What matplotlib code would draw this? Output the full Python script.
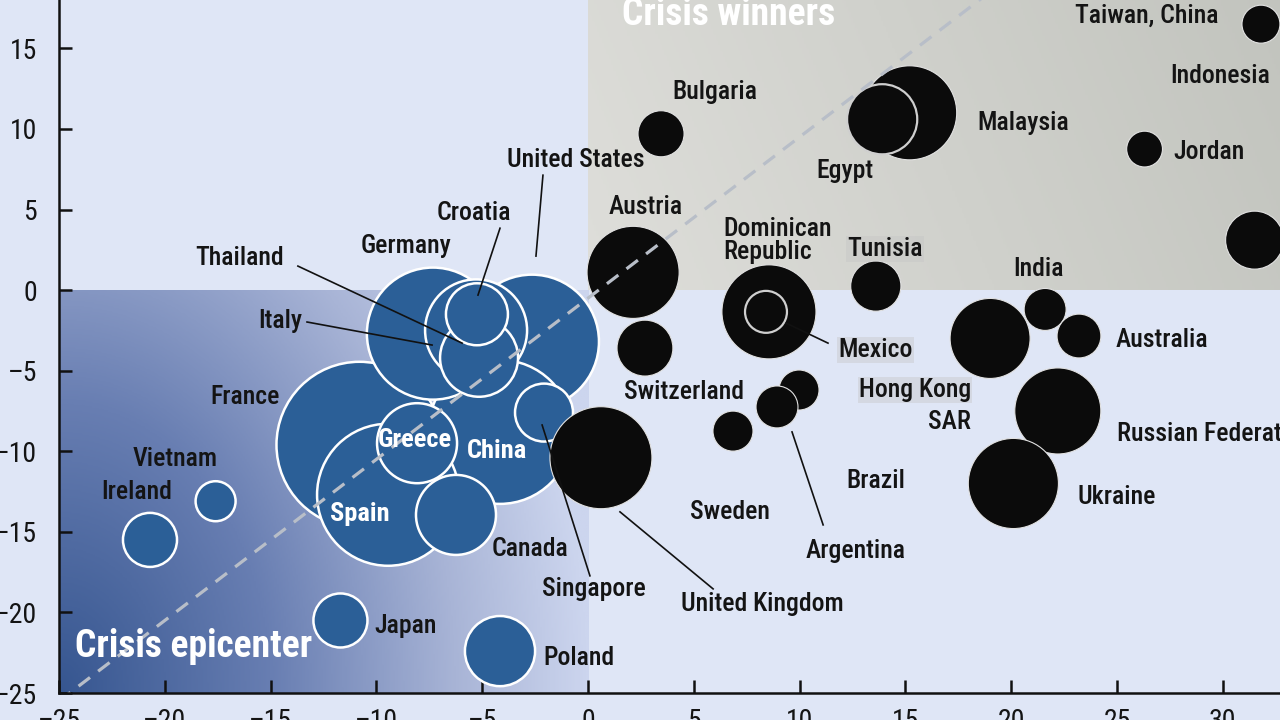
import numpy as np
import matplotlib
matplotlib.use("Agg")
import matplotlib.pyplot as plt
from matplotlib import font_manager
from matplotlib.colors import LinearSegmentedColormap

# ---- data -------------------------------------------------------------
# crisis-hit economies (lower-left, blue), in drawing order
blue_names = ["France", "United States", "China", "Germany", "Spain", "Thailand",
              "Italy", "Croatia", "Greece", "Canada", "Singapore", "Vietnam",
              "Ireland", "Japan", "Poland"]
blue_x = [-10.8, -2.65, -4.16, -7.33, -9.45, -5.29, -5.15, -5.25, -8.08, -6.24,
          -2.08, -17.6, -20.7, -11.7, -4.16]
blue_y = [-9.6, -3.2, -8.8, -2.7, -12.7, -2.5, -4.2, -1.5, -9.5, -13.95, -7.6,
          -13.1, -15.5, -20.5, -22.4]
blue_w = [68.9, 44.9, 51.8, 43.6, 50.4, 26.0, 15.2, 9.6, 16.0, 16.0, 8.4, 4.0,
          7.3, 7.3, 12.3]

# the rest (black), in drawing order
black_names = ["Bulgaria", "Austria", "Switzerland", "United Kingdom",
               "Dominican Republic", "Mexico", "Tunisia", "Brazil", "Argentina",
               "Sweden", "Malaysia", "Egypt", "Jordan", "Indonesia",
               "Taiwan, China", "Hong Kong SAR", "India", "Australia",
               "Russian Federation", "Ukraine"]
black_x = [3.45, 2.13, 2.69, 0.61, 8.55, 8.41, 13.6, 9.97, 8.93, 6.85, 15.2,
           13.9, 26.3, 31.5, 31.8, 19.0, 21.6, 23.2, 22.2, 20.1]
black_y = [9.7, 1.1, -3.6, -10.4, -1.35, -1.35, 0.25, -6.2, -7.25, -8.75, 11.0,
           10.6, 8.75, 3.1, 16.5, -3.0, -1.2, -2.85, -7.5, -12.0]
black_w = [5.3, 21.2, 7.8, 26.0, 22.1, 4.4, 6.3, 4.0, 4.4, 4.0, 22.1, 12.3,
           3.2, 8.4, 3.6, 16.0, 4.4, 4.8, 18.5, 20.3]

# y = x reference line (slightly offset as in the print)
diag_x = [-25, 20]
diag_y = [-25.5, 19.5]

x_ticks = [-25, -20, -15, -10, -5, 0, 5, 10, 15, 20, 25, 30]
y_ticks = [-25, -20, -15, -10, -5, 0, 5, 10, 15]

# label text, anchor x, anchor y, ha
labels = [
    ("Taiwan, China", 23.0, 17.0, "left"),
    ("Indonesia", 27.5, 13.3, "left"),
    ("Bulgaria", 3.97, 12.3, "left"),
    ("Malaysia", 18.4, 10.35, "left"),
    ("Jordan", 27.65, 8.55, "left"),
    ("United States", -3.83, 8.1, "left"),
    ("Egypt", 10.8, 7.4, "left"),
    ("Austria", 0.99, 5.15, "left"),
    ("Croatia", -7.14, 4.77, "left"),
    ("Dominican\nRepublic", 6.38, 3.1, "left"),
    ("Germany", -10.73, 2.73, "left"),
    ("Thailand", -18.57, 1.98, "left"),
    ("India", 20.09, 1.3, "left"),
    ("Italy", -15.6, -1.92, "left"),
    ("Australia", 24.95, -3.1, "left"),
    ("Switzerland", 1.7, -6.32, "left"),
    ("SAR", 18.1, -8.2, "right"),
    ("France", -17.86, -6.63, "left"),
    ("Russian Federation", 25.0, -8.93, "left"),
    ("Vietnam", -21.5, -10.48, "left"),
    ("Brazil", 12.19, -11.84, "left"),
    ("Ireland", -23.02, -12.52, "left"),
    ("Ukraine", 23.11, -12.83, "left"),
    ("Sweden", 4.82, -13.76, "left"),
    ("Canada", -4.54, -16.06, "left"),
    ("Argentina", 10.26, -16.18, "left"),
    ("Singapore", -2.17, -18.54, "left"),
    ("United Kingdom", 4.4, -19.47, "left"),
    ("Japan", -10.11, -20.83, "left"),
    ("Poland", -2.13, -22.81, "left"),
]
shaded_labels = [
    ("Tunisia", 12.24, 2.54, "left"),
    ("Mexico", 11.81, -3.72, "left"),
    ("Hong Kong", 18.1, -6.2, "right"),
]
inner_labels = [("Greece", -9.92, -9.3), ("China", -5.72, -9.98), ("Spain", -12.19, -13.89)]

leaders = [
    ((-2.13, 7.13), (-2.46, 2.11)),
    ((-4.16, 3.84), (-5.20, -0.31)),
    ((-13.71, 1.49), (-5.95, -3.29)),
    ((-13.28, -1.98), (-7.37, -3.41)),
    ((9.36, -2.05), (11.34, -3.29)),
    ((9.64, -8.80), (11.11, -14.57)),
    ((-2.17, -8.37), (0.09, -17.73)),
    ((1.51, -13.76), (5.91, -18.54)),
]

# ---- style ------------------------------------------------------------
_names = {f.name for f in font_manager.fontManager.ttflist}


def _pick(*cands):
    for c in cands:
        if c in _names:
            return c
    return "DejaVu Sans"


COND = _pick("Roboto Condensed", "Archivo Narrow", "PT Sans Narrow", "Liberation Sans")
COND_OK = COND not in ("Liberation Sans", "DejaVu Sans")
LBL_SIZE = 18.5 if COND_OK else 16.5
TICK_SIZE = 20 if COND_OK else 16
BOLD_BIG = 27 if COND_OK else 23
BOLD_SMALL = 19 if COND_OK else 16

BG = "#dfe6f6"
BLUE = "#2b5f97"
BLACK = "#0b0b0b"
INK = "#141414"
SCALE = 207.4   # weight -> marker area (pt^2)

XMAX, YMAX = 32.7, 18.0

fig = plt.figure(figsize=(12.8, 7.2), dpi=100, facecolor=BG)
ax = fig.add_axes([59 / 1280, 27 / 720, 1 - 59 / 1280, 693 / 720])
ax.set_facecolor(BG)
ax.set_xlim(-25, XMAX)
ax.set_ylim(-25, YMAX)

# ── quadrant shading ───────────────────────────────────────
u, v = np.meshgrid(np.linspace(0, 1, 300), np.linspace(0, 1, 300))
t = np.clip(np.sqrt(u ** 2 + (v / 1.8) ** 2), 0, 1)
blue_cmap = LinearSegmentedColormap.from_list(
    "epic", [(0, "#365690"), (0.4, "#687eb2"), (0.75, "#a8b4d6"), (1, "#ccd5ee")])
ax.imshow(t, cmap=blue_cmap, vmin=0, vmax=1, origin="lower",
          extent=(-25, 0, -25, 0), aspect="auto", zorder=0, interpolation="bilinear")

g = np.clip(0.85 * u + 0.15 * v, 0, 1)
grey_cmap = LinearSegmentedColormap.from_list("win", ["#dededa", "#c2c4be"])
ax.imshow(g, cmap=grey_cmap, vmin=0, vmax=1, origin="lower",
          extent=(0, XMAX, 0, YMAX), aspect="auto", zorder=0, interpolation="bilinear")

# ── bubbles ───────────────────────────────────────────────
ax.scatter(blue_x, blue_y, s=np.array(blue_w) * SCALE, c=BLUE,
           edgecolors="white", linewidths=1.8, zorder=2)

black_edges = ["#cfcfcf" if n in ("Mexico", "Egypt") else "#e2e2e2" for n in black_names]
black_lw = [1.6 if n in ("Mexico", "Egypt") else 0.8 for n in black_names]
ax.scatter(black_x, black_y, s=np.array(black_w) * SCALE, c=BLACK,
           edgecolors=black_edges, linewidths=black_lw, zorder=3)

# ── 45 degree line ───────────────────────────────────────
ax.plot(diag_x, diag_y, color="#b8bec8", lw=2.3, ls=(0, (4.5, 3.2)), zorder=4)

# ── labels ───────────────────────────────────────────────
for txt, lx, ly, ha in labels:
    ax.text(lx, ly, txt, ha=ha, va="center", fontsize=LBL_SIZE, family=COND,
            fontweight="medium", color=INK, linespacing=0.95, zorder=6)
for txt, lx, ly, ha in shaded_labels:
    ax.text(lx, ly, txt, ha=ha, va="center", fontsize=LBL_SIZE, family=COND,
            fontweight="medium", color=INK, zorder=6,
            bbox=dict(boxstyle="square,pad=0.05", fc="#c4c4c4", ec="none", alpha=0.4))
for txt, lx, ly in inner_labels:
    ax.text(lx, ly, txt, ha="left", va="center", fontsize=BOLD_SMALL, family=COND,
            fontweight="bold", color="white", zorder=6)

for (x0, y0), (x1, y1) in leaders:
    ax.plot([x0, x1], [y0, y1], color="#111111", lw=1.2, zorder=5)

ax.text(1.61, 17.1, "Crisis winners", ha="left", va="center", fontsize=BOLD_BIG,
        family=COND, fontweight="bold", color="white", zorder=6)
ax.text(-24.24, -22.13, "Crisis epicenter", ha="left", va="center", fontsize=BOLD_BIG,
        family=COND, fontweight="bold", color="white", zorder=6)

# ── axes ─────────────────────────────────────────────────
for side in ("top", "right"):
    ax.spines[side].set_visible(False)
for side in ("left", "bottom"):
    ax.spines[side].set_linewidth(1.8)
    ax.spines[side].set_color("#111111")
    ax.spines[side].set_zorder(7)

ax.set_xticks(x_ticks)
ax.set_yticks(y_ticks)
ax.set_xticklabels([f"{v}".replace("-", "\u2013") for v in x_ticks])
ax.set_yticklabels([f"{v}".replace("-", "\u2013") for v in y_ticks])
ax.tick_params(axis="both", direction="in", length=9.5, width=1.8, color="#111111",
               labelsize=TICK_SIZE, labelcolor=INK)
ax.tick_params(axis="y", pad=16)
ax.tick_params(axis="x", pad=11)
for lab in ax.get_xticklabels() + ax.get_yticklabels():
    lab.set_family(COND)

fig.savefig("out.png", dpi=100, facecolor=BG)
